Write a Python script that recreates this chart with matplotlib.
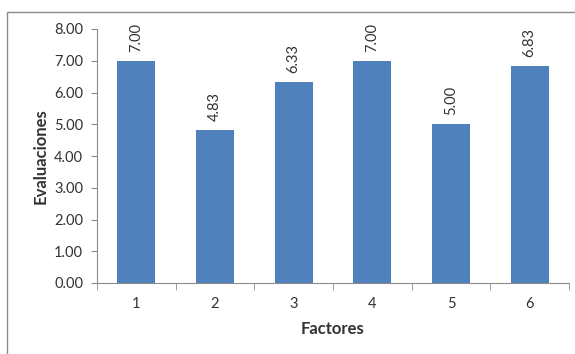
import numpy as np
import matplotlib.pyplot as plt
from matplotlib.patches import Rectangle

# scores per factor
factores = ['1', '2', '3', '4', '5', '6']
evaluaciones = [7.00, 4.83, 6.33, 7.00, 5.00, 6.83]

plt.rcParams['font.family'] = ['Lato', 'DejaVu Sans']

fig = plt.figure(figsize=(5.75, 3.54), dpi=100)
fig.patch.set_facecolor('white')

# chart area frame
fig.patches.append(Rectangle((7/575, -0.1), 1.0, 1.1 - 12/354, transform=fig.transFigure,
                             fill=False, edgecolor='#8c8c8c', linewidth=1.0))

ax = fig.add_axes([97/575, (354-283)/354, (569-97)/575, (283-29)/354])
x = np.arange(len(factores))
bars = ax.bar(x, evaluaciones, width=0.48, color='#4f81bd')

for xi, v in zip(x, evaluaciones):
    ax.annotate(f'{v:.2f}', (xi, v), xytext=(0, 9), textcoords='offset pixels',
                rotation=90, ha='center', va='bottom', fontsize=10.5, color='#333333')

ax.set_xlim(-0.5, len(factores) - 0.5)
ax.set_ylim(0, 8)
ax.set_yticks(np.arange(0, 9, 1))
ax.set_yticklabels([f'{t:.2f}' for t in np.arange(0, 9, 1)])
ax.set_xticks(x)
ax.set_xticklabels(factores)
ax.set_xticks(np.arange(-0.5, len(factores), 1), minor=True)
ax.tick_params(axis='x', which='major', length=0, pad=10, labelsize=10.5, colors='#333333')
ax.tick_params(axis='x', which='minor', length=5, color='#8c8c8c')
ax.tick_params(axis='y', length=4, color='#8c8c8c', labelsize=10.5, labelcolor='#333333', pad=6)

for s in ['top', 'right']:
    ax.spines[s].set_visible(False)
for s in ['left', 'bottom']:
    ax.spines[s].set_color('#8c8c8c')

ax.set_xlabel('Factores', fontsize=12, fontweight='bold', color='#333333', labelpad=7)
ax.set_ylabel('Evaluaciones', fontsize=12, fontweight='bold', color='#333333', labelpad=4)

plt.savefig('out.png', dpi=100)
